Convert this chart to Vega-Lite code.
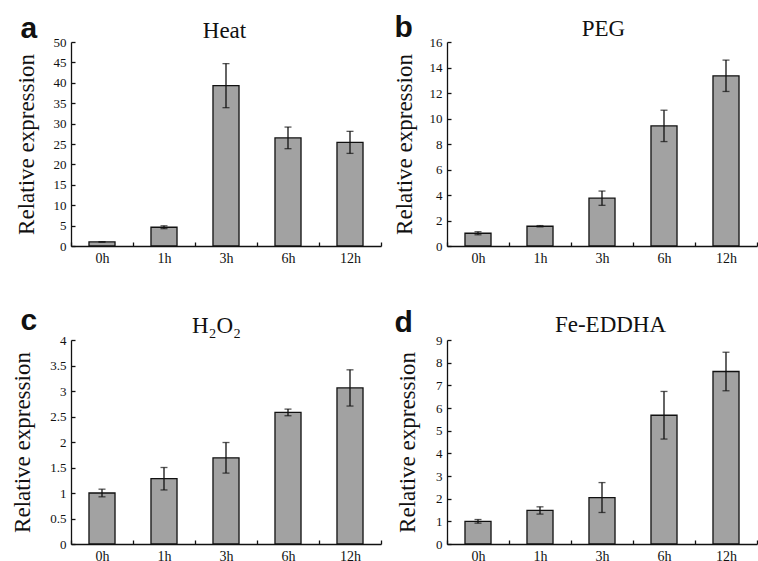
{
  "$schema": "https://vega.github.io/schema/vega-lite/v6.json",
  "padding": {"left": 10, "top": 12, "right": 0, "bottom": 0},
  "background": "white",
  "config": {
    "view": {"stroke": null},
    "axis": {"domainColor": "#111", "domainWidth": 1.3, "tickColor": "#111", "tickWidth": 1.3, "labelColor": "#111", "titleColor": "#111", "grid": false},
    "axisBottom": {"labelFont": "Liberation Serif", "labelFontSize": 14, "labelAngle": 0, "tickBand": "extent", "tickSize": -4, "labelPadding": 9},
    "axisLeft": {"labelFont": "Liberation Serif", "labelFontSize": 13, "tickSize": -4, "labelPadding": 9, "titleFont": "Liberation Serif", "titleFontSize": 23, "titleFontWeight": "normal", "titleBaseline": "bottom", "titleAngle": -90, "titleAlign": "center", "titleY": 102},
    "axisTop": {"domain": false, "ticks": false, "labels": false, "titleFont": "Liberation Serif", "titleFontSize": 23, "titleFontWeight": "normal", "titleBaseline": "alphabetic", "titleAlign": "center"},
    "axisRight": {"domain": false, "ticks": false, "labels": false, "titleFont": "Liberation Sans", "titleFontSize": 30, "titleFontWeight": "bold", "titleAngle": 0, "titleAlign": "left", "titleBaseline": "alphabetic"}
  },
  "datasets": {
    "expr": [
      {"panel": "a", "time": "0h", "value": 1.0, "err": 0.05},
      {"panel": "a", "time": "1h", "value": 4.6, "err": 0.35},
      {"panel": "a", "time": "3h", "value": 39.3, "err": 5.4},
      {"panel": "a", "time": "6h", "value": 26.5, "err": 2.65},
      {"panel": "a", "time": "12h", "value": 25.4, "err": 2.7},
      {"panel": "b", "time": "0h", "value": 1.0, "err": 0.12},
      {"panel": "b", "time": "1h", "value": 1.55, "err": 0.05},
      {"panel": "b", "time": "3h", "value": 3.75, "err": 0.56},
      {"panel": "b", "time": "6h", "value": 9.42, "err": 1.23},
      {"panel": "b", "time": "12h", "value": 13.35, "err": 1.23},
      {"panel": "c", "time": "0h", "value": 1.0, "err": 0.075},
      {"panel": "c", "time": "1h", "value": 1.28, "err": 0.22},
      {"panel": "c", "time": "3h", "value": 1.69, "err": 0.3},
      {"panel": "c", "time": "6h", "value": 2.58, "err": 0.065},
      {"panel": "c", "time": "12h", "value": 3.06, "err": 0.355},
      {"panel": "d", "time": "0h", "value": 1.0, "err": 0.08},
      {"panel": "d", "time": "1h", "value": 1.48, "err": 0.16},
      {"panel": "d", "time": "3h", "value": 2.05, "err": 0.66},
      {"panel": "d", "time": "6h", "value": 5.68, "err": 1.05},
      {"panel": "d", "time": "12h", "value": 7.61, "err": 0.85}
    ]
  },
  "data": {"name": "expr"},
  "columns": 2,
  "bounds": "flush",
  "spacing": {"row": 94, "column": 66},
  "concat": [
    {
      "width": 310, "height": 204,
      "transform": [{"filter": "datum.panel === 'a'"}],
      "layer": [
        {
          "mark": {"type": "bar", "fill": "#a2a2a2", "stroke": "#111", "strokeWidth": 1.3, "width": {"band": 0.42}},
          "encoding": {
            "x": {"field": "time", "type": "ordinal", "sort": ["0h", "1h", "3h", "6h", "12h"], "scale": {"paddingInner": 0, "paddingOuter": 0}, "axis": {"title": null}},
            "y": {"field": "value", "type": "quantitative", "scale": {"domain": [0, 50]},
              "axis": {"values": [0, 5, 10, 15, 20, 25, 30, 35, 40, 45, 50], "format": "~g", "title": "Relative expression", "titleX": -33}}
          }
        },
        {
          "mark": {"type": "errorbar", "color": "#111", "ticks": {"size": 7, "thickness": 1.3}, "rule": {"strokeWidth": 1.3}},
          "encoding": {
            "x": {"field": "time", "type": "ordinal", "sort": ["0h", "1h", "3h", "6h", "12h"], "axis": {"orient": "top", "title": "Heat", "titleX": 153, "titleY": -5}},
            "y": {"field": "value", "type": "quantitative", "scale": {"domain": [0, 50]}, "axis": {"orient": "right", "title": "a", "titleX": -361, "titleY": -5}},
            "yError": {"field": "err"}
          }
        }
      ],
      "resolve": {"axis": {"x": "independent", "y": "independent"}}
    },
    {
      "width": 310, "height": 204,
      "transform": [{"filter": "datum.panel === 'b'"}],
      "layer": [
        {
          "mark": {"type": "bar", "fill": "#a2a2a2", "stroke": "#111", "strokeWidth": 1.3, "width": {"band": 0.42}},
          "encoding": {
            "x": {"field": "time", "type": "ordinal", "sort": ["0h", "1h", "3h", "6h", "12h"], "scale": {"paddingInner": 0, "paddingOuter": 0}, "axis": {"title": null}},
            "y": {"field": "value", "type": "quantitative", "scale": {"domain": [0, 16]},
              "axis": {"values": [0, 2, 4, 6, 8, 10, 12, 14, 16], "format": "~g", "title": "Relative expression", "titleX": -31}}
          }
        },
        {
          "mark": {"type": "errorbar", "color": "#111", "ticks": {"size": 7, "thickness": 1.3}, "rule": {"strokeWidth": 1.3}},
          "encoding": {
            "x": {"field": "time", "type": "ordinal", "sort": ["0h", "1h", "3h", "6h", "12h"], "axis": {"orient": "top", "title": "PEG", "titleX": 156, "titleY": -7}},
            "y": {"field": "value", "type": "quantitative", "scale": {"domain": [0, 16]}, "axis": {"orient": "right", "title": "b", "titleX": -363, "titleY": -6}},
            "yError": {"field": "err"}
          }
        }
      ],
      "resolve": {"axis": {"x": "independent", "y": "independent"}}
    },
    {
      "width": 310, "height": 204,
      "transform": [{"filter": "datum.panel === 'c'"}],
      "layer": [
        {
          "mark": {"type": "bar", "fill": "#a2a2a2", "stroke": "#111", "strokeWidth": 1.3, "width": {"band": 0.42}},
          "encoding": {
            "x": {"field": "time", "type": "ordinal", "sort": ["0h", "1h", "3h", "6h", "12h"], "scale": {"paddingInner": 0, "paddingOuter": 0}, "axis": {"title": null}},
            "y": {"field": "value", "type": "quantitative", "scale": {"domain": [0, 4]},
              "axis": {"values": [0, 0.5, 1, 1.5, 2, 2.5, 3, 3.5, 4], "format": "~g", "title": "Relative expression", "titleX": -37}}
          }
        },
        {
          "mark": {"type": "errorbar", "color": "#111", "ticks": {"size": 7, "thickness": 1.3}, "rule": {"strokeWidth": 1.3}},
          "encoding": {
            "x": {"field": "time", "type": "ordinal", "sort": ["0h", "1h", "3h", "6h", "12h"], "axis": {"orient": "top", "title": "H₂O₂", "titleX": 145, "titleY": -8}},
            "y": {"field": "value", "type": "quantitative", "scale": {"domain": [0, 4]}, "axis": {"orient": "right", "title": "c", "titleX": -361, "titleY": -11}},
            "yError": {"field": "err"}
          }
        }
      ],
      "resolve": {"axis": {"x": "independent", "y": "independent"}}
    },
    {
      "width": 310, "height": 204,
      "transform": [{"filter": "datum.panel === 'd'"}],
      "layer": [
        {
          "mark": {"type": "bar", "fill": "#a2a2a2", "stroke": "#111", "strokeWidth": 1.3, "width": {"band": 0.42}},
          "encoding": {
            "x": {"field": "time", "type": "ordinal", "sort": ["0h", "1h", "3h", "6h", "12h"], "scale": {"paddingInner": 0, "paddingOuter": 0}, "axis": {"title": null}},
            "y": {"field": "value", "type": "quantitative", "scale": {"domain": [0, 9]},
              "axis": {"values": [0, 1, 2, 3, 4, 5, 6, 7, 8, 9], "format": "~g", "title": "Relative expression", "titleX": -28}}
          }
        },
        {
          "mark": {"type": "errorbar", "color": "#111", "ticks": {"size": 7, "thickness": 1.3}, "rule": {"strokeWidth": 1.3}},
          "encoding": {
            "x": {"field": "time", "type": "ordinal", "sort": ["0h", "1h", "3h", "6h", "12h"], "axis": {"orient": "top", "title": "Fe-EDDHA", "titleX": 163, "titleY": -9}},
            "y": {"field": "value", "type": "quantitative", "scale": {"domain": [0, 9]}, "axis": {"orient": "right", "title": "d", "titleX": -363, "titleY": -9}},
            "yError": {"field": "err"}
          }
        }
      ],
      "resolve": {"axis": {"x": "independent", "y": "independent"}}
    }
  ]
}
